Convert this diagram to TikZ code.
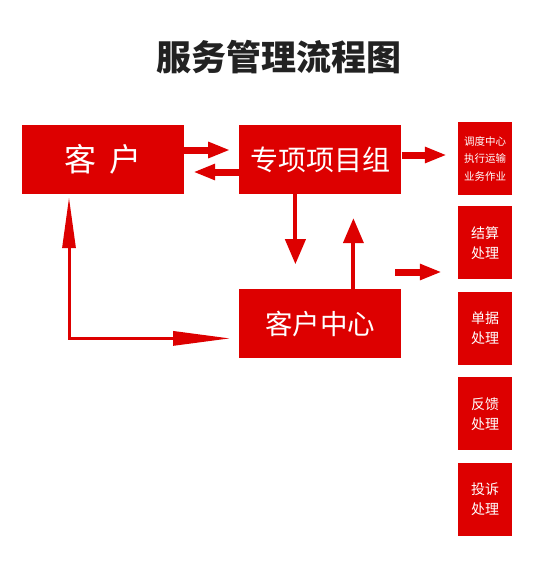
\documentclass[tikz,border=0pt]{standalone}
\usepackage{fontspec}
\setmainfont{Noto Sans CJK SC}
\usetikzlibrary{arrows.meta, positioning}
\definecolor{boxred}{RGB}{221,0,0}
\definecolor{titlegray}{RGB}{34,34,34}
\tikzstyle{bigbox} = [rectangle, minimum width=162pt, minimum height=69pt, inner sep=0pt, fill=boxred, text=white]
\tikzstyle{sidebox} = [rectangle, minimum width=54pt, minimum height=73pt, inner sep=0pt, fill=boxred, text=white, align=center, font=\fontsize{14}{20}\selectfont]
\tikzstyle{arrow} = [boxred, line width=7pt, -{Triangle[length=22pt,width=15pt]}]
\tikzstyle{varrow} = [boxred, line width=4pt, -{Triangle[length=25pt,width=20pt]}]
\tikzstyle{thinarrow} = [boxred, line width=3pt, {Triangle[length=51pt,width=13pt]}-{Triangle[length=57pt,width=14pt]}]

\begin{document}
\begin{tikzpicture}[x=1pt,y=-1pt]
\useasboundingbox (0,0) rectangle (550,563);

\node (title) at (279,57.5) [text=titlegray, font=\fontsize{35}{35}\selectfont\bfseries] {服务管理流程图};

\node (kehu) [bigbox, font=\fontsize{32}{32}\selectfont] at (103,159.5) {客\hspace{14pt}户};
\node (zhuanxiang) [bigbox, right=55pt of kehu, font=\fontsize{28}{28}\selectfont] {专项项目组};
\node (kefu) [bigbox, below=95pt of zhuanxiang, font=\fontsize{27.5}{27.5}\selectfont] {客户中心};

\node (diaodu) [sidebox, font=\fontsize{10.5}{17.5}\selectfont] at (485,158.5) {调度中心\\执行运输\\业务作业};
\node (jiesuan) [sidebox, below=11pt of diaodu] {结算\\处理};
\node (danju) [sidebox, below=12pt of jiesuan] {单据\\处理};
\node (fankui) [sidebox, below=12pt of danju] {反馈\\处理};
\node (tousu) [sidebox, below=12pt of fankui] {投诉\\处理};

\draw [arrow, shorten >=9pt] ([yshift=9.5pt]kehu.east) -- ([yshift=9.5pt]zhuanxiang.west);
\draw [arrow, shorten >=9pt] ([yshift=-12.5pt]zhuanxiang.west) -- ([yshift=-12.5pt]kehu.east);
\coordinate (zxout) at ([yshift=4.5pt]zhuanxiang.east);
\draw [arrow, shorten >=11pt] (zxout) -- (zxout -| diaodu.west);
\draw [varrow, shorten >=25pt] ([xshift=-25pt]zhuanxiang.south) -- ([xshift=-25pt]kefu.north);
\draw [varrow, shorten >=24pt] ([xshift=33pt]kefu.north) -- ([xshift=33pt]zhuanxiang.south);

\coordinate (feed) at (395,272);
\draw [arrow, shorten >=16pt] (feed) -- (feed -| jiesuan.west);

\draw [thinarrow, shorten <=3pt, shorten >=9pt] ([xshift=-34pt]kehu.south) |- ([yshift=-14.5pt]kefu.west);

\end{tikzpicture}
\end{document}
